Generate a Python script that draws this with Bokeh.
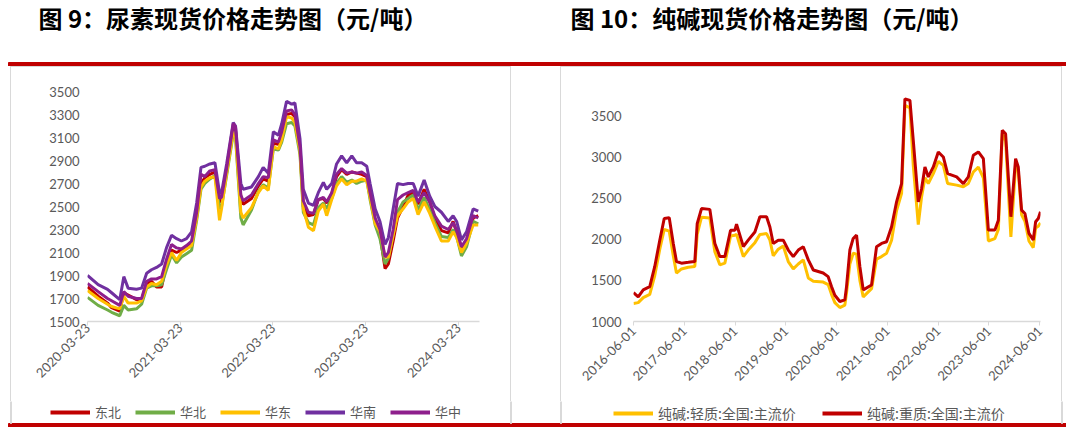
import math
import pandas as pd
from bokeh.plotting import figure
from bokeh.models import (Range1d, FixedTicker, DatetimeTickFormatter, Legend,
                          LegendItem, Spacer, ColumnDataSource)
from bokeh.layouts import column, row
from bokeh.embed import file_html
from bokeh.resources import INLINE
from bokeh.core.properties import value

# ---------------- texts ----------------
title_left = "图 9：尿素现货价格走势图（元/吨）"
title_right = "图 10：纯碱现货价格走势图（元/吨）"

# ---------------- left chart data (urea, yuan/ton) ----------------
left_names = ["东北", "华北", "华东", "华南", "华中"]
left_colors = ["#C00000", "#70AD47", "#FFC000", "#7030A0", "#8E1F8C"]
left_dates = [
    "2020-03-23", "2020-05-04", "2020-06-10", "2020-06-26", "2020-07-28", "2020-08-13", "2020-08-30", "2020-10-02", "2020-10-22", "2020-11-11",
    "2020-11-30", "2020-12-20", "2021-01-09", "2021-01-28", "2021-02-17", "2021-03-09", "2021-03-28", "2021-04-17", "2021-05-07", "2021-05-27",
    "2021-06-13", "2021-06-28", "2021-07-18", "2021-08-07", "2021-08-25", "2021-09-02", "2021-09-22", "2021-10-18", "2021-10-27", "2021-11-17",
    "2021-11-26", "2021-12-29", "2022-01-25", "2022-02-13", "2022-03-05", "2022-03-25", "2022-04-14", "2022-04-27", "2022-05-16", "2022-06-05",
    "2022-06-18", "2022-07-08", "2022-07-21", "2022-08-10", "2022-08-30", "2022-09-18", "2022-10-08", "2022-10-21", "2022-11-10", "2022-11-29",
    "2022-12-19", "2023-01-08", "2023-01-28", "2023-02-16", "2023-03-08", "2023-03-28", "2023-04-10", "2023-04-30", "2023-05-19", "2023-06-08",
    "2023-06-21", "2023-07-10", "2023-07-27", "2023-08-18", "2023-09-07", "2023-09-27", "2023-10-16", "2023-11-09", "2023-12-01", "2023-12-21",
    "2024-01-16", "2024-02-12", "2024-03-02", "2024-03-16", "2024-04-04", "2024-04-24", "2024-05-20", "2024-06-09",
]
dongbei = [
    1800, 1720, 1660, 1620, 1590, 1750, 1730, 1690, 1690, 1830,
    1850, 1800, 1800, 2000, 2120, 2100, 2120, 2150, 2180, 2420,
    2700, 2750, 2780, 2800, 2540, 2560, 2800, 3180, 3160, 2580,
    2520, 2570, 2680, 2740, 2720, 3050, 3040, 3110, 3300, 3310,
    3280, 3000, 2500, 2420, 2430, 2560, 2570, 2530, 2610, 2760,
    2820, 2780, 2800, 2790, 2780, 2760, 2600, 2380, 2260, 1960,
    2000, 2200, 2400, 2500, 2600, 2620, 2520, 2650, 2540, 2400,
    2290, 2270, 2370, 2280, 2140, 2200, 2400, 2420,
]
huabei = [
    1710, 1640, 1600, 1580, 1550, 1640, 1600, 1610, 1650, 1790,
    1810, 1810, 1820, 1950, 2080, 2010, 2060, 2090, 2120, 2380,
    2650, 2700, 2740, 2770, 2480, 2500, 2770, 3130, 3100, 2400,
    2340, 2470, 2630, 2690, 2660, 3000, 2990, 3060, 3220, 3230,
    3200, 2950, 2450, 2360, 2340, 2490, 2530, 2480, 2570, 2700,
    2760, 2710, 2730, 2700, 2720, 2730, 2560, 2340, 2220, 2000,
    2050, 2260, 2450, 2540, 2570, 2600, 2470, 2580, 2470, 2360,
    2240, 2230, 2300, 2240, 2070, 2150, 2370, 2350,
]
huadong = [
    1770, 1700, 1650, 1630, 1610, 1720, 1660, 1660, 1680, 1800,
    1830, 1820, 1850, 1990, 2100, 2030, 2100, 2130, 2160, 2400,
    2670, 2720, 2750, 2760, 2380, 2480, 2790, 3150, 3120, 2450,
    2400, 2490, 2620, 2680, 2640, 3020, 3000, 3080, 3280, 3270,
    3230, 2980, 2480, 2320, 2290, 2460, 2520, 2420, 2560, 2680,
    2740, 2690, 2720, 2720, 2740, 2720, 2580, 2350, 2280, 2060,
    2060, 2250, 2420, 2480, 2540, 2570, 2430, 2540, 2440, 2330,
    2200, 2200, 2280, 2230, 2100, 2180, 2340, 2340,
]
huanan = [
    1900, 1820, 1780, 1750, 1690, 1890, 1790, 1780, 1790, 1920,
    1950, 1970, 2000, 2140, 2250, 2220, 2200, 2220, 2280, 2530,
    2840, 2850, 2870, 2880, 2620, 2620, 2870, 3230, 3200, 2700,
    2650, 2670, 2760, 2840, 2790, 3150, 3120, 3220, 3415, 3390,
    3400, 3090, 2650, 2530, 2510, 2620, 2710, 2650, 2700, 2870,
    2940, 2880, 2940, 2880, 2880, 2850, 2700, 2480, 2370, 2170,
    2230, 2480, 2700, 2690, 2700, 2700, 2590, 2730, 2590, 2500,
    2450, 2370, 2420, 2370, 2210, 2280, 2480, 2460,
]
huazhong = [
    1830, 1760, 1700, 1680, 1640, 1760, 1720, 1700, 1700, 1850,
    1870, 1870, 1890, 2040, 2170, 2140, 2130, 2160, 2200, 2450,
    2780, 2760, 2810, 2820, 2570, 2580, 2830, 3220, 3190, 2600,
    2550, 2600, 2700, 2760, 2750, 3080, 3060, 3150, 3330, 3340,
    3300, 3020, 2550, 2450, 2440, 2560, 2580, 2540, 2620, 2780,
    2830, 2790, 2800, 2790, 2800, 2770, 2620, 2400, 2300, 2060,
    2100, 2300, 2560, 2600, 2620, 2640, 2540, 2620, 2540, 2420,
    2330, 2300, 2360, 2290, 2150, 2220, 2420, 2400,
]
left_xticks = ["2020-03-23", "2021-03-23", "2022-03-23", "2023-03-23", "2024-03-23"]
left_yticks = [1500, 1700, 1900, 2100, 2300, 2500, 2700, 2900, 3100, 3300, 3500]

# ---------------- right chart data (soda ash, yuan/ton) ----------------
right_names = ["纯碱:轻质:全国:主流价", "纯碱:重质:全国:主流价"]
right_colors = ["#FFC000", "#C00000"]
right_dates = [
    "2016-06-01", "2016-07-05", "2016-08-10", "2016-09-26", "2016-11-01", "2016-12-07", "2017-01-08", "2017-02-13", "2017-03-14", "2017-04-06",
    "2017-05-12", "2017-06-30", "2017-08-16", "2017-09-02", "2017-10-03", "2017-12-02", "2018-01-07", "2018-02-12", "2018-03-20", "2018-04-30",
    "2018-05-31", "2018-06-12", "2018-07-31", "2018-09-04", "2018-10-22", "2018-11-27", "2019-01-14", "2019-02-07", "2019-03-03", "2019-04-08",
    "2019-05-14", "2019-06-19", "2019-07-25", "2019-08-30", "2019-10-05", "2019-11-10", "2019-12-16", "2020-02-25", "2020-04-01", "2020-04-25",
    "2020-05-19", "2020-06-24", "2020-07-30", "2020-08-11", "2020-09-04", "2020-09-28", "2020-10-22", "2020-11-15", "2020-12-09", "2021-02-07",
    "2021-03-15", "2021-04-20", "2021-05-26", "2021-07-01", "2021-08-06", "2021-09-11", "2021-10-05", "2021-11-10", "2021-12-04", "2022-01-09",
    "2022-02-02", "2022-02-26", "2022-03-22", "2022-04-27", "2022-06-02", "2022-07-08", "2022-08-08", "2022-10-12", "2022-11-29", "2023-01-04",
    "2023-02-09", "2023-03-17", "2023-04-22", "2023-05-28", "2023-07-14", "2023-08-08", "2023-09-05", "2023-09-29", "2023-11-06", "2023-12-10",
    "2023-12-29", "2024-01-22", "2024-02-15", "2024-03-15", "2024-04-15", "2024-05-02", "2024-05-21", "2024-06-06",
]
light = [
    1220, 1230, 1290, 1330, 1560, 1880, 2120, 2100, 1800, 1590,
    1640, 1660, 1670, 2060, 2270, 2260, 1850, 1690, 1710, 2040,
    2050, 2060, 1790, 1870, 1960, 2060, 2070, 1990, 1800, 1880,
    1920, 1730, 1640, 1700, 1750, 1530, 1490, 1480, 1450, 1330,
    1230, 1170, 1200, 1350, 1700, 1830, 1820, 1500, 1300, 1400,
    1760, 1790, 1830, 1990, 2350, 2560, 3630, 3600, 2900, 2180,
    2520, 2750, 2680, 2800, 2950, 2900, 2680, 2660, 2640, 2680,
    2820, 2880, 2750, 1980, 2010, 2120, 3290, 3200, 2030, 2900,
    2830, 2300, 2220, 1980, 1900, 2140, 2160, 2200,
]
heavy = [
    1350, 1300, 1385, 1425, 1670, 1990, 2254, 2262, 1950, 1730,
    1710, 1720, 1730, 2190, 2375, 2365, 1950, 1790, 1790, 2110,
    2110, 2186, 1911, 1990, 2090, 2275, 2275, 2150, 1950, 1990,
    1990, 1870, 1790, 1870, 1910, 1750, 1627, 1590, 1546, 1425,
    1320, 1243, 1263, 1425, 1870, 2011, 2052, 1668, 1385, 1445,
    1911, 1951, 1971, 2153, 2457, 2679, 3711, 3691, 3205, 2457,
    2618, 2882, 2760, 2882, 3064, 3003, 2800, 2760, 2679, 2760,
    3023, 3064, 2983, 2113, 2113, 2234, 3327, 3286, 2275, 2983,
    2882, 2356, 2315, 2072, 1992, 2214, 2254, 2335,
]
right_xticks = ["2016-06-01", "2017-06-01", "2018-06-01", "2019-06-01", "2020-06-01",
                "2021-06-01", "2022-06-01", "2023-06-01", "2024-06-01"]
right_yticks = [1000, 1500, 2000, 2500, 3000, 3500]

# ---------------- styling helpers ----------------
NUM_FONT = "Lato"
CJK_FONT = "Noto Sans CJK SC"
GREY = "#595959"
AXIS_GREY = "#D9D9D9"
RED = "#C00000"
W = 1066


def ms(s):
    return pd.Timestamp(s).value // 10**6


def plain(p):
    p.outline_line_color = None
    p.xgrid.visible = False
    p.ygrid.visible = False


def style_chart(p, xticks, yticks, ystand, xstand):
    plain(p)
    fmt = "%Y-%m-%d"
    p.xaxis.ticker = FixedTicker(ticks=[ms(t) for t in xticks])
    p.xaxis.formatter = DatetimeTickFormatter(
        microseconds=fmt, milliseconds=fmt, seconds=fmt, minsec=fmt, minutes=fmt,
        hourmin=fmt, hours=fmt, days=fmt, months=fmt, years=fmt)
    p.xaxis.major_label_orientation = math.pi / 4
    p.xaxis.axis_line_color = AXIS_GREY
    p.xaxis.axis_line_width = 1.5
    p.xaxis.major_tick_line_color = AXIS_GREY
    p.xaxis.major_tick_out = 4
    p.xaxis.major_tick_in = 0
    p.xaxis.minor_tick_line_color = None
    p.xaxis.major_label_standoff = xstand
    p.xaxis.major_label_text_font_size = "13px"
    p.yaxis.ticker = FixedTicker(ticks=yticks)
    p.yaxis.axis_line_color = None
    p.yaxis.major_tick_line_color = None
    p.yaxis.minor_tick_line_color = None
    p.yaxis.major_tick_out = 0
    p.yaxis.major_tick_in = 0
    p.yaxis.major_label_standoff = ystand
    p.yaxis.major_label_text_font_size = "13px"
    for ax in (p.xaxis, p.yaxis):
        ax.major_label_text_font = NUM_FONT
        ax.major_label_text_color = GREY


# ---------------- header (titles + red rule) ----------------
hdr = figure(width=W, height=66, x_range=Range1d(0, W), y_range=Range1d(0, 66),
             title=None, output_backend="svg", toolbar_location=None, min_border=0,
             x_axis_type=None, y_axis_type=None)
plain(hdr)
hdr.quad(left=8, right=W, bottom=0, top=4, color=RED)
hdr.text(x=[38, 570], y=[49, 49], text=[title_left, title_right],
         text_font=value(CJK_FONT), text_font_style="bold", text_font_size="24px",
         text_baseline="middle", text_align="left", text_color="black")

CH = 335  # chart figure height (y 66..401)
SIDE = {"border-left": "1px solid #D9D9D9", "border-right": "1px solid #D9D9D9",
        "border-top": "1px solid #D9D9D9"}

# ---------------- left chart ----------------
src_l = ColumnDataSource(dict(date=pd.to_datetime(left_dates), dongbei=dongbei, huabei=huabei,
                              huadong=huadong, huanan=huanan, huazhong=huazhong))
pl = figure(width=501, height=CH, x_axis_type="datetime", title=None,
            x_range=Range1d(ms("2020-03-23"), ms("2024-06-14")), y_range=Range1d(1500, 3500),
            min_border_left=76, min_border_right=33, min_border_top=24, min_border_bottom=73,
            output_backend="svg", toolbar_location=None, styles=SIDE)
style_chart(pl, left_xticks, left_yticks, 8, 0)
for col, c in zip(["dongbei", "huabei", "huadong", "huanan", "huazhong"], left_colors):
    pl.line(x="date", y=col, source=src_l, line_width=3, line_color=c)

# ---------------- right chart ----------------
src_r = ColumnDataSource(dict(date=pd.to_datetime(right_dates), light=light, heavy=heavy))
pr = figure(width=502, height=CH, x_axis_type="datetime", title=None,
            x_range=Range1d(ms("2016-06-01"), ms("2024-06-06")), y_range=Range1d(1000, 3800),
            min_border_left=72, min_border_right=23, min_border_top=23, min_border_bottom=81,
            output_backend="svg", toolbar_location=None, styles=SIDE)
style_chart(pr, right_xticks, right_yticks, 12, 3)
for col, c in zip(["light", "heavy"], right_colors):
    pr.line(x="date", y=col, source=src_r, line_width=3, line_color=c)

# ---------------- bottom strip: legends + panel sides + red rule ----------------
SH = 26  # y 401..427
strip = figure(width=W, height=SH, x_range=Range1d(0, W), y_range=Range1d(0, SH),
               title=None, output_backend="svg", toolbar_location=None, min_border=0,
               x_axis_type=None, y_axis_type=None)
plain(strip)
strip.quad(left=8, right=W, bottom=0, top=4, color=RED)
strip.quad(left=[10, 510, 560, 1061], right=[11, 511, 561, 1062], bottom=4, top=SH,
           color=AXIS_GREY)

NAN = [float("nan")]
items_l = []
for name, c in zip(left_names, left_colors):
    r = strip.line(x=NAN, y=NAN, line_width=4, line_color=c)
    items_l.append(LegendItem(label=name, renderers=[r]))
items_r = []
for name, c in zip(right_names, right_colors):
    r = strip.line(x=NAN, y=NAN, line_width=4, line_color=c)
    items_r.append(LegendItem(label=name, renderers=[r]))


def make_legend(items, loc, spacing, label_width, font_size):
    return Legend(items=items, orientation="horizontal", location=loc,
                  glyph_width=40, glyph_height=12, label_height=12, label_standoff=5,
                  label_width=label_width, spacing=spacing, padding=0, margin=0,
                  border_line_color=None, background_fill_alpha=0,
                  label_text_font=CJK_FONT, label_text_font_size=font_size,
                  label_text_color=GREY)


strip.add_layout(make_legend(items_l, (50, 6), 10, 30, "13px"))
strip.add_layout(make_legend(items_r, (613, 4), 14, 150, "14px"))

layout = column(hdr,
                row(Spacer(width=10, height=CH), pl, Spacer(width=49, height=CH), pr,
                    Spacer(width=4, height=CH), spacing=0),
                strip, spacing=0)

open("out.html", "w").write(file_html(layout, INLINE))
